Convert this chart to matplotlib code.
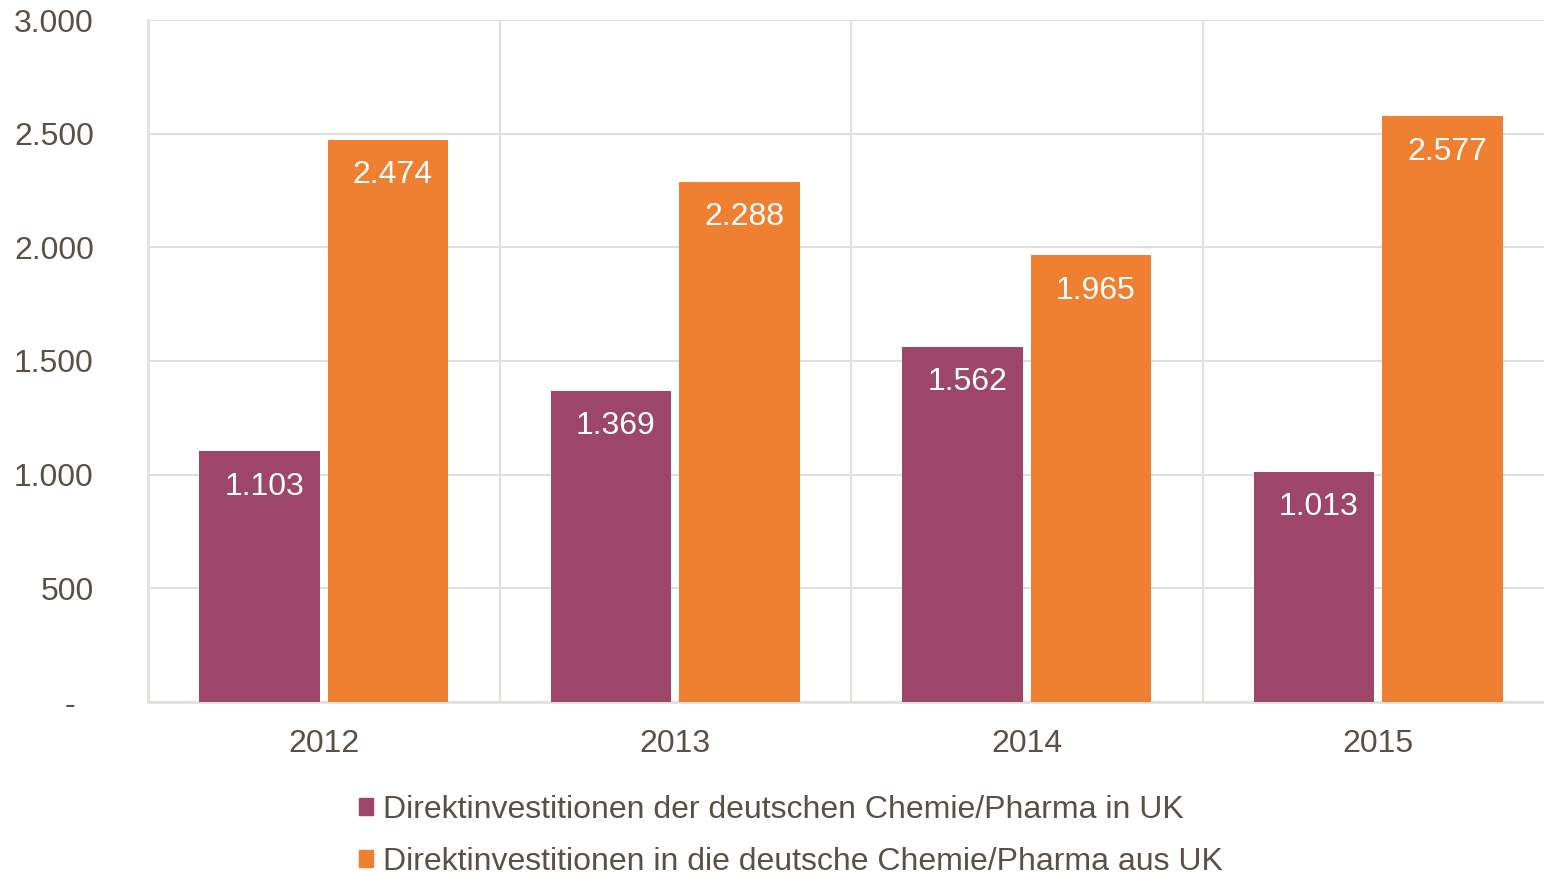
import matplotlib
matplotlib.use("Agg")
import matplotlib.pyplot as plt
from matplotlib.patches import Patch
import numpy as np

years = ["2012", "2013", "2014", "2015"]
de_in_uk = [1103, 1369, 1562, 1013]
uk_in_de = [2474, 2288, 1965, 2577]
series_labels = ["Direktinvestitionen der deutschen Chemie/Pharma in UK",
                 "Direktinvestitionen in die deutsche Chemie/Pharma aus UK"]
yticks = [0, 500, 1000, 1500, 2000, 2500, 3000]
ytick_labels = ["-  ", "500", "1.000", "1.500", "2.000", "2.500", "3.000"]

purple = "#9E4669"
orange = "#EF8032"
text_col = "#595048"
grid_col = "#E3E0DC"

plt.rcParams['font.family'] = ['Liberation Sans', 'DejaVu Sans']

W, H = 1544, 872
fig = plt.figure(figsize=(W/100, H/100), dpi=100)
ax = fig.add_axes([148/W, (H-702)/H, (1554-148)/W, 682/H])

x = np.arange(len(years))
bw = 0.342
gap = 0.023
off = (bw + gap) / 2
b1 = ax.bar(x - off, de_in_uk, bw, color=purple, zorder=3)
b2 = ax.bar(x + off, uk_in_de, bw, color=orange, zorder=3)

def fmt(v):
    return f"{v:,}".replace(",", ".")

for bars, vals in ((b1, de_in_uk), (b2, uk_in_de)):
    for r, v in zip(bars, vals):
        ax.annotate(fmt(v), (r.get_x() + r.get_width()/2, v), xytext=(3.5, -25.5),
                    textcoords="offset points", ha="center", va="center",
                    color="white", fontsize=23, zorder=4)

ax.set_xlim(-0.5, len(years) - 0.5)
ax.set_ylim(0, 3000)
ax.set_yticks(yticks)
ax.set_yticklabels(ytick_labels)
ax.set_xticks(x)
ax.set_xticklabels(years)
ax.set_xticks(np.arange(-0.5, len(years), 1.0), minor=True)
ax.tick_params(axis="both", which="both", length=0, labelsize=23, colors=text_col)
ax.tick_params(axis="y", pad=39)
ax.tick_params(axis="x", pad=19.5)
ax.grid(axis="y", which="major", color=grid_col, lw=1.5, zorder=0)
ax.grid(axis="x", which="minor", color=grid_col, lw=1.5, zorder=0)
ax.grid(axis="x", which="major", visible=False)
for s in ["top", "right"]:
    ax.spines[s].set_visible(False)
for s in ["left", "bottom"]:
    ax.spines[s].set_color(grid_col)
    ax.spines[s].set_linewidth(2)

handles = [Patch(color=purple), Patch(color=orange)]
fig.legend(handles, series_labels, loc="upper left",
           bbox_to_anchor=(359/W, 1 - 795/H), frameon=False,
           fontsize=23, labelcolor=text_col, handlelength=0.45, handleheight=0.45,
           handletextpad=0.3, labelspacing=0.68, borderaxespad=0, borderpad=0)

fig.savefig("out.png", dpi=100)
